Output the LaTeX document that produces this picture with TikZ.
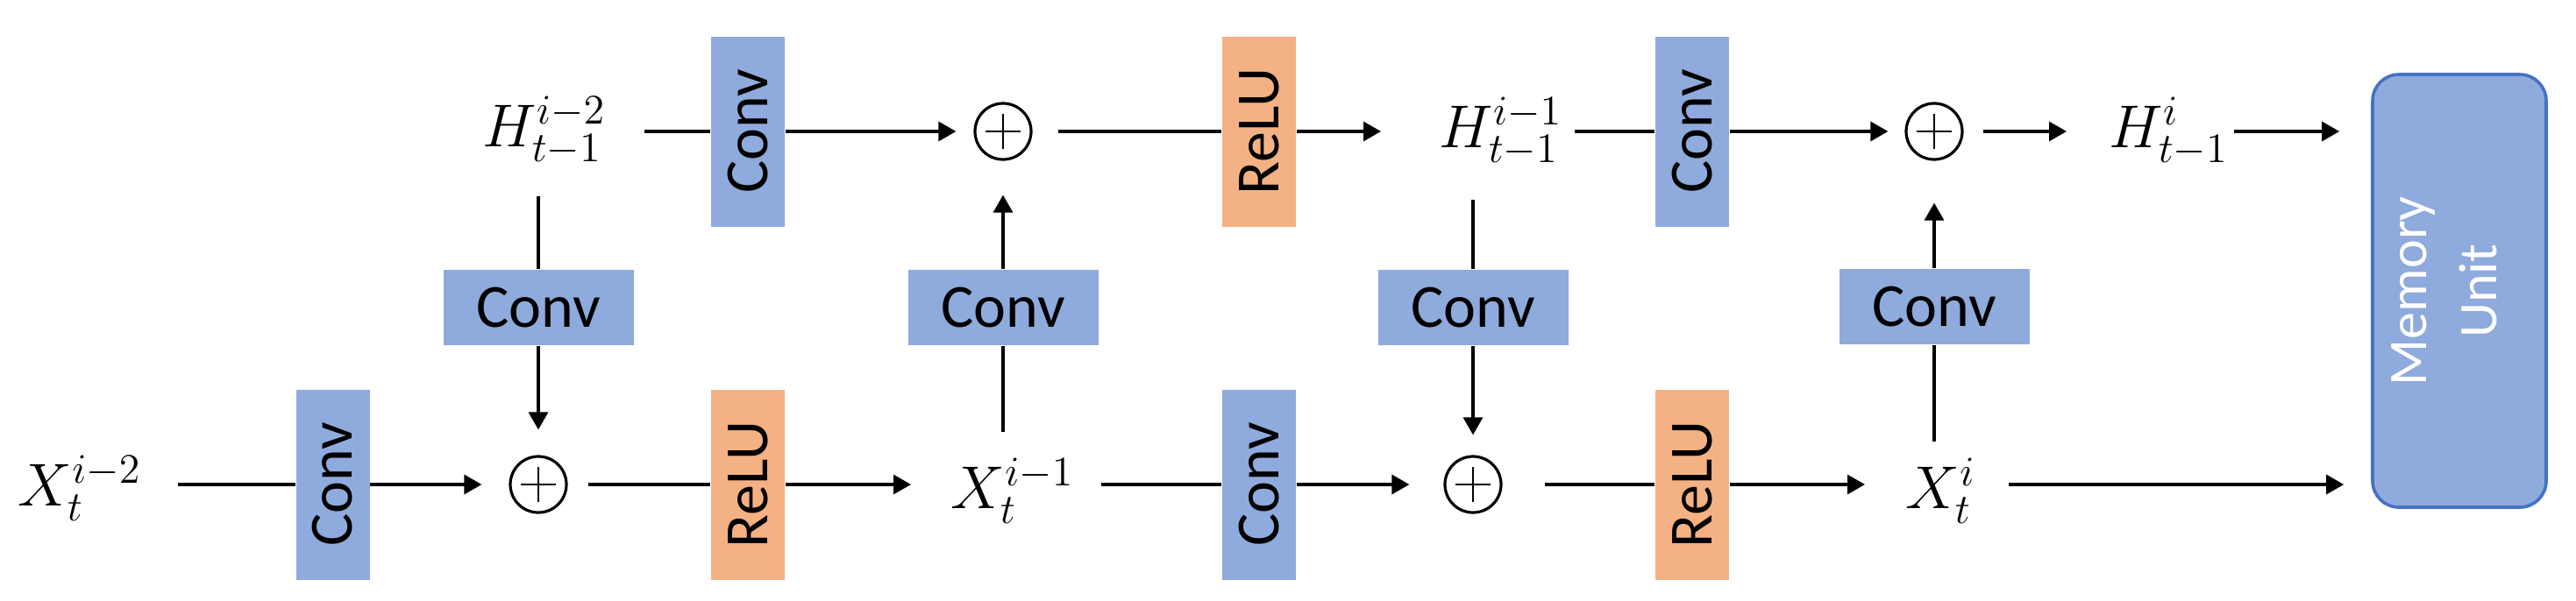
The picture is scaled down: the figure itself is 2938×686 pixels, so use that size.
\documentclass[tikz,border=0pt]{standalone}
\usepackage{fontspec}
\newfontfamily\carl{Carlito}
\usetikzlibrary{arrows.meta,calc}
\definecolor{convblue}{HTML}{8FAADC}
\definecolor{reluor}{HTML}{F4B183}
\definecolor{memedge}{HTML}{4472C4}
\tikzset{
  conn/.style={line width=0.8pt},
  arr/.style={conn,-{Triangle[length=5pt,width=5.5pt]}},
  vbox/.style={fill=#1, rotate=90, minimum width=54.25pt, minimum height=21pt,
    inner sep=0pt, font=\carl\fontsize{17.5}{20}\selectfont},
  hbox/.style={fill=convblue, minimum width=54.25pt, minimum height=21.5pt,
    inner sep=0pt, font=\carl\fontsize{17.5}{20}\selectfont},
  lbl/.style={inner sep=0pt, anchor=base west, font=\fontsize{17}{20}\selectfont},
  plus/.style={circle, draw, line width=0.8pt, minimum size=16pt, inner sep=0pt,
    path picture={
      \draw[line width=0.7pt] (path picture bounding box.west) ++(3pt,0) -- ++(10pt,0);
      \draw[line width=0.7pt] (path picture bounding box.south) ++(0,3pt) -- ++(0,10pt);}},
  membox/.style={fill=convblue, draw=memedge, line width=0.9pt, rounded corners=7.5pt,
    minimum width=49.5pt, minimum height=123.5pt, inner sep=0pt},
  memtext/.style={rotate=90, align=center, text=white, inner sep=0pt,
    font=\carl\fontsize{15.5}{20}\selectfont}
}
\begin{document}
\begin{tikzpicture}[x=0.25pt,y=-0.25pt]
\useasboundingbox (0,0) rectangle (2938,686);

% labels
\node[lbl] (x1) at (20,577) {$X_t^{i-2}$};
\node[lbl] (h1) at (550,167) {$H_{t-1}^{i-2}$};
\node[lbl] (x2) at (1084,580) {$X_t^{i-1}$};
\node[lbl] (h2) at (1641,168) {$H_{t-1}^{i-1}$};
\node[lbl] (x3) at (2173,580) {$X_t^{i}$};
\node[lbl] (h3) at (2405,168) {$H_{t-1}^{i}$};

% bottom row boxes
\node[vbox=convblue] (cb1) at (379.5,553) {Conv};
\node[vbox=reluor]   (rb1) at (853,553) {ReLU};
\node[vbox=convblue] (cb2) at (1436,553) {Conv};
\node[vbox=reluor]   (rb2) at (1930,553) {ReLU};
% top row boxes
\node[vbox=convblue] (ct1) at (853,150) {Conv};
\node[vbox=reluor]   (rt1) at (1436,150) {ReLU};
\node[vbox=convblue] (ct2) at (1930,150) {Conv};
% vertical-branch boxes
\node[hbox] (v1) at (614,351) {Conv};
\node[hbox] (v2) at (1144,351) {Conv};
\node[hbox] (v3) at (1680,351) {Conv};
\node[hbox] (v4) at (2206,350) {Conv};
% sums
\node[plus] (p1) at (614,553) {};
\node[plus] (p2) at (1680,553) {};
\node[plus] (p3) at (1144,150) {};
\node[plus] (p4) at (2206,150) {};
% memory unit
\node[membox] (mem) at (2805,332) {};
\node[memtext] at ([xshift=-4.25pt]mem.center) {Memory\\Unit};

% bottom row connectors
\draw[conn, shorten <=10.25pt] (x1.east |- cb1) -- (cb1);
\draw[arr, shorten >=7.75pt] (cb1) -- (p1);
\draw[conn, shorten <=5.75pt] (p1) -- (rb1);
\draw[arr, shorten >=11.25pt] (rb1) -- (x2.west |- rb1);
\draw[conn, shorten <=7.5pt] (x2.east |- cb2) -- (cb2);
\draw[arr, shorten >=9.75pt] (cb2) -- (p2);
\draw[conn, shorten <=12pt] (p2) -- (rb2);
\draw[arr, shorten >=11.5pt] (rb2) -- (x3.west |- rb2);
\draw[arr, shorten <=9.25pt, shorten >=7.75pt] (x3.east |- rb2) -- (mem.west |- rb2);

% top row connectors
\draw[conn, shorten <=10.75pt] (h1.east |- ct1) -- (ct1);
\draw[arr, shorten >=5pt] (ct1) -- (p3);
\draw[conn, shorten <=7.25pt] (p3) -- (rt1);
\draw[arr, shorten >=16.5pt] (rt1) -- (h2.west |- rt1);
\draw[conn, shorten <=3.25pt] (h2.east |- ct2) -- (ct2);
\draw[arr, shorten >=4.75pt] (ct2) -- (p4);
\draw[arr, shorten <=5.5pt, shorten >=12pt] (p4) -- (h3.west |- p4);
\draw[arr, shorten <=1.5pt, shorten >=9pt] (h3.east |- p4) -- (mem.west |- p4);

% vertical connectors
\draw[conn, shorten <=8.75pt] (v1 |- h1.south) -- (v1);
\draw[arr, shorten >=7.25pt] (v1) -- (p1);
\draw[conn, shorten <=7.5pt] (v2 |- x2.north) -- (v2);
\draw[arr, shorten >=9.75pt] (v2) -- (p3);
\draw[conn, shorten <=9.5pt] (v3 |- h2.south) -- (v3);
\draw[arr, shorten >=5.75pt] (v3) -- (p2);
\draw[conn, shorten <=4.75pt] (v4 |- x3.north) -- (v4);
\draw[arr, shorten >=12pt] (v4) -- (p4);
\end{tikzpicture}
\end{document}
